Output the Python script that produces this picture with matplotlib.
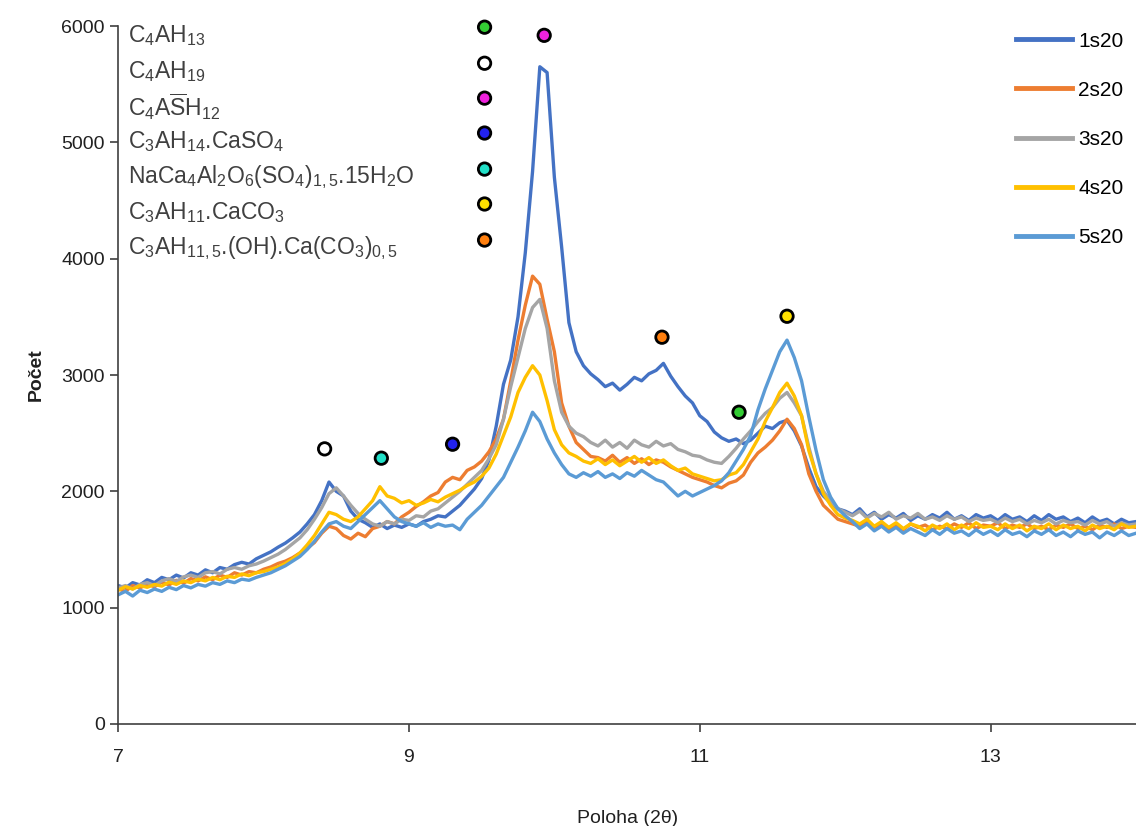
import numpy as np
import matplotlib
matplotlib.use('Agg')
import matplotlib.pyplot as plt

plt.rcParams['font.family'] = ['Liberation Sans', 'DejaVu Sans']
plt.rcParams['mathtext.fontset'] = 'custom'
plt.rcParams['mathtext.rm'] = 'Liberation Sans'
plt.rcParams['mathtext.it'] = 'Liberation Sans:italic'
plt.rcParams['mathtext.bf'] = 'Liberation Sans:bold'

# 2theta grid, step 0.05
two_theta = np.round(np.arange(7.0, 14.001, 0.05), 2)

s1 = [1190, 1170, 1215, 1195, 1240, 1215, 1260, 1240, 1280, 1255, 1300, 1280, 1325, 1300, 1345, 1330, 1370, 1390, 1375, 1420,
      1450, 1480, 1520, 1555, 1600, 1650, 1720, 1800, 1920, 2080, 2000, 1960, 1830, 1760, 1730, 1690, 1720, 1680, 1710, 1690,
      1720, 1700, 1740, 1760, 1790, 1780, 1830, 1880, 1950, 2020, 2110, 2270, 2560, 2920, 3130, 3500, 4050, 4750, 5650, 5600,
      4700, 4100, 3450, 3200, 3080, 3010, 2960, 2900, 2930, 2870, 2920, 2980, 2950, 3010, 3040, 3100, 2990, 2900, 2820, 2760,
      2650, 2600, 2510, 2460, 2430, 2450, 2410, 2440, 2500, 2560, 2540, 2590, 2610, 2520, 2390, 2200, 2040, 1960, 1900, 1850,
      1830, 1800, 1850, 1780, 1820, 1760, 1800, 1770, 1810, 1750, 1790, 1760, 1800, 1770, 1820, 1760, 1790, 1750, 1800, 1770,
      1790, 1750, 1800, 1760, 1780, 1740, 1790, 1750, 1800, 1760, 1780, 1740, 1770, 1730, 1780, 1740, 1760, 1720, 1760, 1730,
      1740]
s2 = [1160, 1140, 1190, 1170, 1200, 1180, 1220, 1195, 1235, 1210, 1250, 1230, 1265, 1240, 1280, 1260, 1300, 1280, 1310, 1300,
      1330, 1350, 1380, 1400, 1430, 1470, 1510, 1560, 1640, 1700, 1680, 1620, 1590, 1640, 1610, 1680, 1700, 1740, 1720, 1780,
      1820, 1870, 1910, 1960, 1990, 2080, 2120, 2100, 2180, 2210, 2260, 2340, 2450, 2620, 2950, 3300, 3600, 3850, 3780, 3480,
      3200, 2760, 2560, 2420, 2360, 2300, 2290, 2260, 2310, 2250, 2290, 2240, 2280, 2230, 2270, 2250, 2210, 2180, 2150, 2120,
      2100, 2080, 2050, 2030, 2070, 2090, 2140, 2250, 2330, 2380, 2440, 2520, 2620, 2540, 2400, 2150, 2000, 1880, 1820, 1760,
      1740, 1720, 1700, 1740, 1690, 1720, 1680, 1710, 1670, 1720, 1690, 1710, 1670, 1700, 1680, 1720, 1690, 1730, 1680, 1710,
      1700, 1730, 1680, 1710, 1690, 1720, 1680, 1700, 1670, 1710, 1690, 1720, 1680, 1700, 1670, 1710, 1690, 1720, 1680, 1700,
      1690]
s3 = [1170, 1190, 1160, 1200, 1215, 1190, 1230, 1250, 1225, 1265, 1280, 1260, 1300, 1310, 1290, 1330, 1345, 1330, 1360, 1375,
      1400, 1430, 1460, 1500, 1550, 1600, 1670, 1760, 1860, 1980, 2030, 1960, 1880, 1810, 1760, 1720, 1700, 1740, 1720, 1760,
      1750, 1790, 1780, 1830, 1850, 1900, 1950, 2000, 2060, 2120, 2180, 2280, 2400, 2620, 2900, 3150, 3400, 3580, 3650, 3400,
      2950, 2680, 2560, 2500, 2470, 2420, 2390, 2440, 2380, 2420, 2370, 2440, 2400, 2380, 2430, 2390, 2410, 2360, 2340, 2310,
      2300, 2270, 2250, 2240, 2300, 2370, 2450, 2520, 2600, 2670, 2720, 2800, 2850, 2760, 2650, 2380, 2150, 2000, 1920, 1850,
      1820, 1790, 1830, 1770, 1810, 1780, 1820, 1760, 1790, 1770, 1810, 1760, 1780, 1750, 1790, 1760, 1780, 1740, 1770, 1750,
      1760, 1730, 1770, 1740, 1760, 1720, 1750, 1730, 1760, 1720, 1750, 1730, 1740, 1710, 1750, 1720, 1740, 1700, 1730, 1710,
      1720]
s4 = [1150, 1180, 1160, 1190, 1175, 1200, 1185, 1220, 1200, 1230, 1215, 1245, 1230, 1260, 1240, 1270, 1260, 1290, 1275, 1300,
      1310, 1330, 1350, 1380, 1420, 1470, 1540, 1620, 1720, 1820, 1800, 1760, 1740, 1780, 1850, 1920, 2040, 1960, 1940, 1900,
      1920, 1880, 1900, 1930, 1910, 1950, 1980, 2010, 2050, 2080, 2130, 2200, 2320, 2480, 2640, 2850, 2980, 3080, 3000, 2780,
      2530, 2400, 2330, 2300, 2260, 2240, 2280, 2230, 2270, 2220, 2260, 2300, 2250, 2290, 2240, 2270, 2220, 2180, 2200, 2150,
      2130, 2110, 2090, 2100, 2140, 2160, 2230, 2340, 2450, 2600, 2720, 2850, 2930, 2820, 2650, 2350, 2150, 1980, 1880, 1800,
      1770, 1750, 1720, 1760, 1700, 1740, 1690, 1730, 1680, 1720, 1700, 1660, 1710, 1680, 1720, 1670, 1710, 1680, 1730, 1690,
      1700, 1670, 1720, 1680, 1710, 1660, 1700, 1680, 1720, 1670, 1710, 1680, 1700, 1660, 1710, 1680, 1700, 1670, 1720, 1690,
      1700]
s5 = [1110, 1140, 1100, 1150, 1130, 1160, 1140, 1175, 1155, 1190, 1170, 1200, 1185, 1215, 1200, 1230, 1215, 1245, 1235, 1260,
      1280, 1300, 1330, 1360, 1400, 1440, 1500, 1570, 1650, 1720, 1740, 1700, 1680, 1740, 1800, 1860, 1920, 1850, 1780, 1740,
      1720, 1700, 1730, 1690, 1720, 1700, 1710, 1670, 1760, 1820, 1880, 1960, 2040, 2120, 2250, 2380, 2520, 2680, 2600, 2450,
      2330, 2230, 2150, 2120, 2160, 2130, 2170, 2120, 2150, 2110, 2160, 2130, 2180, 2140, 2100, 2080, 2020, 1960, 2000, 1960,
      1990, 2020, 2050, 2090, 2160, 2260, 2360, 2480, 2700, 2880, 3040, 3200, 3300, 3150, 2950, 2640, 2350, 2100, 1950, 1850,
      1790, 1740, 1680, 1720, 1660, 1700, 1650, 1690, 1640, 1680, 1650, 1620, 1670, 1630, 1680, 1640, 1660, 1620, 1670, 1630,
      1660, 1620, 1670, 1630, 1650, 1610, 1660, 1630, 1670, 1620, 1650, 1610, 1660, 1630, 1650, 1600, 1650, 1620, 1660, 1620,
      1640]

series = ['1s20', '2s20', '3s20', '4s20', '5s20']
colors = ['#4472C4', '#ED7D31', '#A5A5A5', '#FFC000', '#5B9BD5']

# phase markers: labels, marker colours, peak positions
phases = [r'C$_4$AH$_{13}$',
          r'C$_4$AH$_{19}$',
          r'C$_4$A$\overline{\mathrm{S}}$H$_{12}$',
          r'C$_3$AH$_{14}$.CaSO$_4$',
          r'NaCa$_4$Al$_2$O$_6$(SO$_4$)$_{1,5}$.15H$_2$O',
          r'C$_3$AH$_{11}$.CaCO$_3$',
          r'C$_3$AH$_{11,5}$.(OH).Ca(CO$_3$)$_{0,5}$']
phase_col = ['#33CC33', '#FFFFFF', '#EE22DD', '#2222EE', '#22E0C8', '#FFE000', '#FF7F0E']
key_x = 9.52
key_y = [5990, 5680, 5380, 5080, 4770, 4470, 4160]
peak_x = [11.27, 8.42, 9.93, 9.30, 8.81, 11.60, 10.74]
peak_y = [2680, 2365, 5920, 2405, 2285, 3505, 3325]

fig = plt.figure(figsize=(11.36, 8.26), dpi=100)
ax = fig.add_axes([0.104, 0.1235, 0.896, 0.845])

for name, col, vals in zip(series, colors, [s1, s2, s3, s4, s5]):
    ax.plot(two_theta, vals, color=col, lw=2.4, label=name)

ax.scatter([key_x] * len(key_y), key_y, s=80, c=phase_col, edgecolors='black', linewidths=2, zorder=5, clip_on=False)
ax.scatter(peak_x, peak_y, s=80, c=phase_col, edgecolors='black', linewidths=2, zorder=5, clip_on=False)
for lab, yy in zip(phases, key_y):
    ax.text(7.07, yy - 70, lab, fontsize=16.5, color='#404040', va='center', ha='left')

ax.set_xlim(7, 14)
ax.set_ylim(0, 6000)
ax.set_xticks([7, 9, 11, 13])
ax.set_yticks(range(0, 6001, 1000))
ax.spines['top'].set_visible(False)
ax.spines['right'].set_visible(False)
for sp in ['left', 'bottom']:
    ax.spines[sp].set_color('#404040')
    ax.spines[sp].set_linewidth(1.2)
ax.tick_params(axis='both', length=6, width=1.2, color='#404040', labelsize=14, labelcolor='#202020')
ax.tick_params(axis='x', pad=12)

ax.set_xlabel('Poloha (2θ)', fontsize=14, labelpad=32, color='#202020')
ax.set_ylabel('Počet', fontsize=14, fontweight='bold', labelpad=12, color='#202020')

leg = ax.legend(loc='upper right', frameon=False, fontsize=15, handlelength=2.7, handletextpad=0.3,
                labelspacing=1.45, bbox_to_anchor=(1.0, 1.01), borderaxespad=0.2)
for h in leg.get_lines():
    h.set_linewidth(3.5)

fig.savefig('out.png', dpi=100)
